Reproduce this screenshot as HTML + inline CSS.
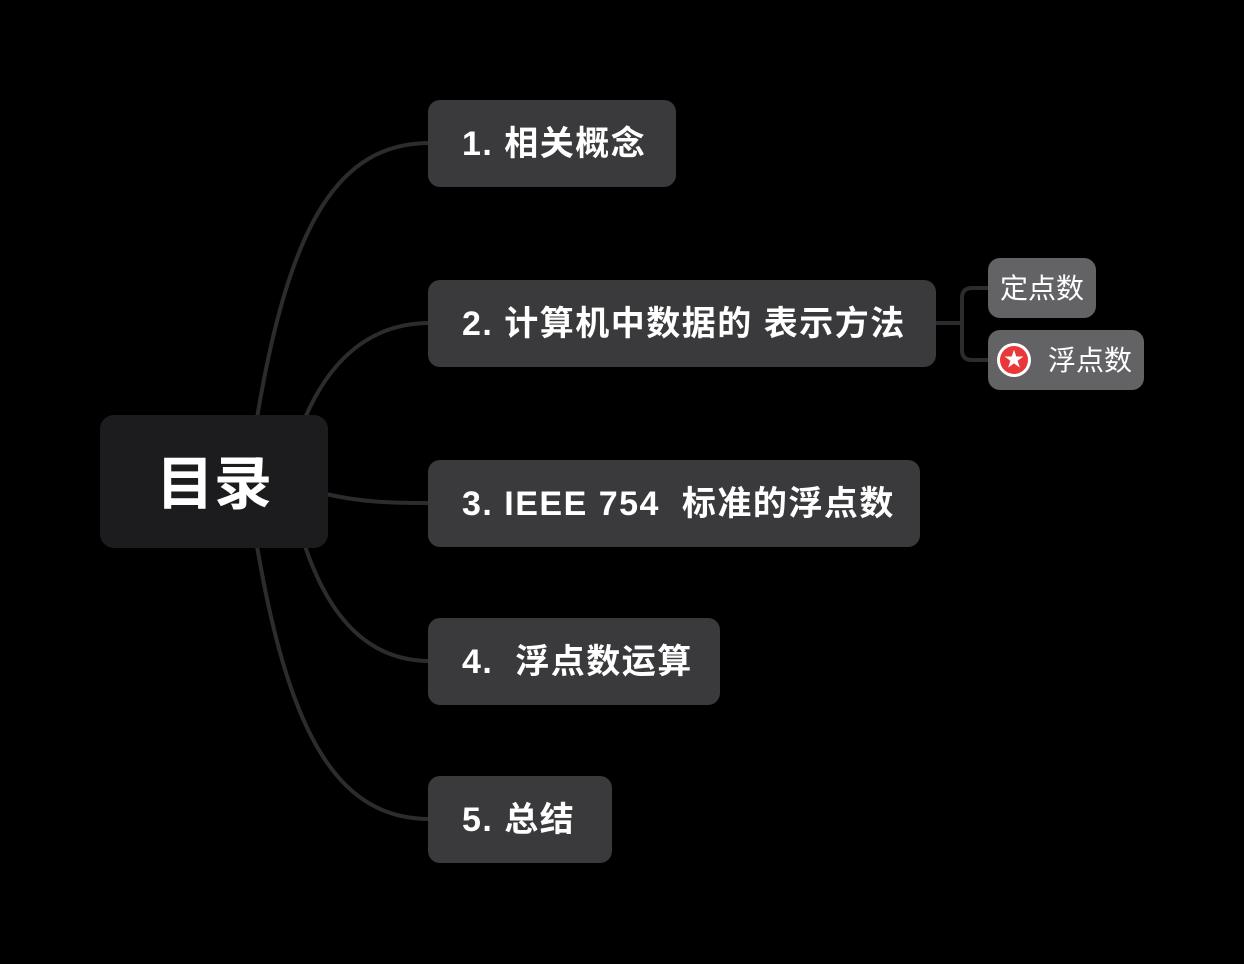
<!DOCTYPE html>
<html><head><meta charset="utf-8"><style>
body{margin:0;width:1244px;height:964px;background:#000;position:relative;overflow:hidden;font-family:"Liberation Sans","Noto Sans CJK SC",sans-serif;}
.n{position:absolute;background:#3a3a3c;border-radius:12px;color:#fff;font-weight:bold;font-size:34px;letter-spacing:1.5px;display:flex;align-items:center;padding-left:34px;padding-bottom:6px;box-sizing:border-box;white-space:pre;}
.s{position:absolute;background:#636366;border-radius:12px;color:#fff;font-size:28px;display:flex;align-items:center;box-sizing:border-box;padding-bottom:2px;}
</style></head><body>
<svg width="1244" height="964" style="position:absolute;left:0;top:0" fill="none" stroke="#2c2c2e" stroke-width="4">
<path d="M257 418 C 290 220, 340 143, 430 143"/>
<path d="M305 418 C 330 360, 370 323, 430 323"/>
<path d="M326 494 C 360 502, 390 503, 430 503"/>
<path d="M305 546 C 330 620, 370 661, 430 661"/>
<path d="M257 546 C 290 740, 340 819, 430 819"/>
<path d="M934 323 L962 323"/>
<path d="M990 288 L972 288 Q962 288 962 298 L962 350 Q962 360 972 360 L990 360"/>
</svg>
<div style="position:absolute;left:100px;top:415px;width:228px;height:133px;background:#1c1c1e;border-radius:14px;color:#fff;font-weight:bold;font-size:58px;display:flex;align-items:center;justify-content:center;padding-bottom:6px;box-sizing:border-box;">目录</div>
<div class="n" style="left:428px;top:100px;width:248px;height:87px">1. 相关概念</div>
<div class="n" style="left:428px;top:280px;width:508px;height:87px">2. 计算机中数据的 表示方法</div>
<div class="n" style="left:428px;top:460px;width:492px;height:87px">3. IEEE 754  标准的浮点数</div>
<div class="n" style="left:428px;top:618px;width:292px;height:87px">4.  浮点数运算</div>
<div class="n" style="left:428px;top:776px;width:184px;height:87px">5. 总结</div>
<div class="s" style="left:988px;top:258px;width:108px;height:60px;padding-left:12px">定点数</div>
<div class="s" style="left:988px;top:330px;width:156px;height:60px;padding-left:60px">浮点数
<div style="position:absolute;left:9px;top:13px;width:34px;height:34px;border-radius:50%;background:#fff;"><div style="position:absolute;left:3px;top:3px;width:28px;height:28px;border-radius:50%;background:#e8383a;color:#fff;font-size:20px;line-height:28px;text-align:center;">★</div></div></div>
</body></html>
